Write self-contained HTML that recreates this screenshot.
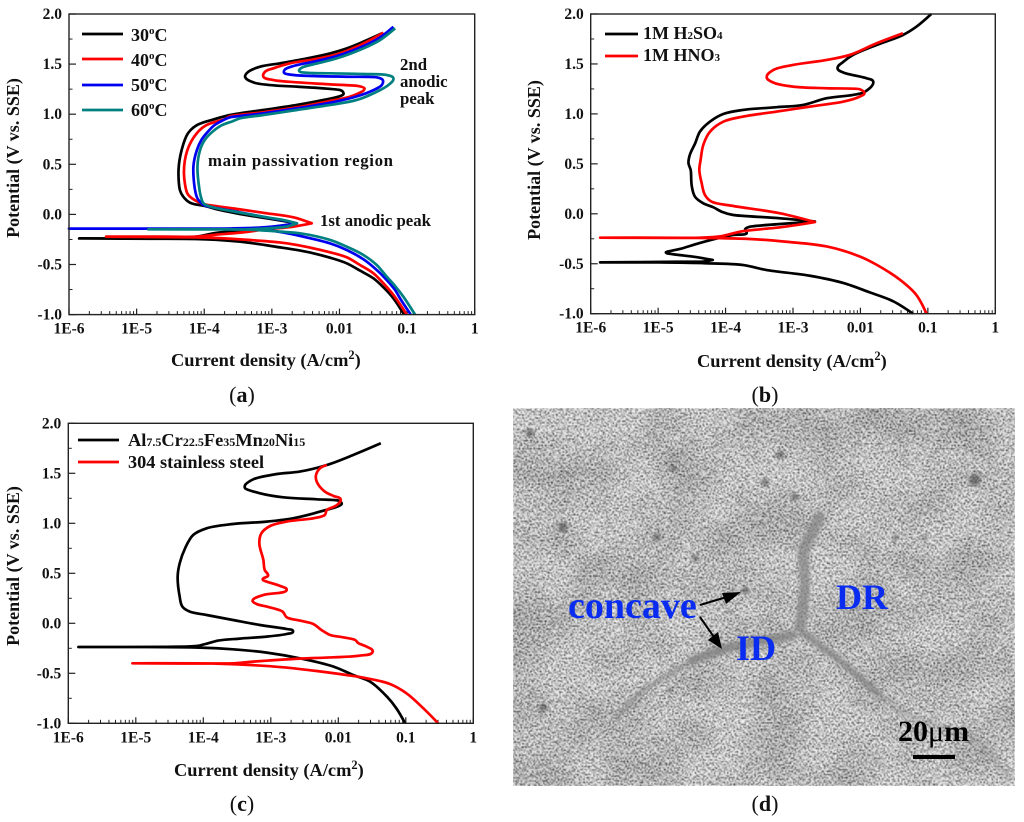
<!DOCTYPE html>
<html lang="en">
<head>
<meta charset="utf-8">
<title>Polarization curves and SEM micrograph</title>
<style>
html,body{margin:0;padding:0;background:#fff;}
svg{display:block;font-family:"Liberation Serif",serif;font-weight:bold;fill:#111;filter:blur(0.3px);}
.tick{font-size:15.5px;}
.title{font-size:18.4px;}
.ytitle{font-size:18px;}
.leg{font-size:18px;}
.note{font-size:16.8px;}
.cap{font-size:22px;font-weight:normal;text-anchor:middle;}
.cap tspan{font-weight:bold;}
.sem{font-size:36px;fill:#0a2cf0;}
</style>
</head>
<body>
<svg id="figure" xmlns="http://www.w3.org/2000/svg" width="1024" height="822" viewBox="0 0 1024 822">
  <defs>
    <filter id="semNoise" x="0" y="0" width="100%" height="100%" color-interpolation-filters="sRGB">
      <feTurbulence type="fractalNoise" baseFrequency="0.62" numOctaves="2" seed="7"/>
      <feColorMatrix type="matrix" values="2.6 0 0 0 -0.55  2.6 0 0 0 -0.55  2.6 0 0 0 -0.55  0 0 0 0 1"/>
      <feGaussianBlur stdDeviation="0.4"/>
    </filter>
    <filter id="semVeins" x="0" y="0" width="100%" height="100%" color-interpolation-filters="sRGB">
      <feTurbulence type="turbulence" baseFrequency="0.045 0.06" numOctaves="2" seed="23"/>
      <feColorMatrix type="matrix" values="0 0 0 0 1  0 0 0 0 1  0 0 0 0 1  -9 0 0 0 1.1"/>
    </filter>
    <filter id="semMottle" x="0" y="0" width="100%" height="100%" color-interpolation-filters="sRGB">
      <feTurbulence type="fractalNoise" baseFrequency="0.02" numOctaves="3" seed="11"/>
      <feColorMatrix type="matrix" values="1.8 0 0 0 -0.2  1.8 0 0 0 -0.2  1.8 0 0 0 -0.2  0 0 0 0 1"/>
    </filter>
    <filter id="semSoft" x="-10%" y="-10%" width="120%" height="120%"><feGaussianBlur stdDeviation="1.8"/></filter>
  </defs>

  <g id="plot-a"></g>
  <g id="plot-b"></g>
  <g id="plot-c"></g>

  <!-- chart a text -->
  <text class="title" x="171" y="366">Current density (A/cm<tspan font-size="12.5" dy="-7">2</tspan><tspan dy="7">)</tspan></text>
  <text class="ytitle" transform="translate(19,158) rotate(-90)" text-anchor="middle">Potential (V vs. SSE)</text>
  <text class="leg" x="131" y="41">30<tspan font-size="11" dy="-7">o</tspan><tspan dy="7">C</tspan></text>
  <text class="leg" x="131" y="66">40<tspan font-size="11" dy="-7">o</tspan><tspan dy="7">C</tspan></text>
  <text class="leg" x="131" y="91">50<tspan font-size="11" dy="-7">o</tspan><tspan dy="7">C</tspan></text>
  <text class="leg" x="131" y="116">60<tspan font-size="11" dy="-7">o</tspan><tspan dy="7">C</tspan></text>
  <text class="note" x="400" y="70">2nd</text>
  <text class="note" x="400" y="87">anodic</text>
  <text class="note" x="400" y="104">peak</text>
  <text class="note" x="208" y="166" textLength="185">main passivation region</text>
  <text class="note" x="320" y="226">1st anodic peak</text>
  <text class="cap" x="242" y="402">(<tspan>a</tspan>)</text>

  <!-- chart b text -->
  <text class="title" x="697" y="367">Current density (A/cm<tspan font-size="12.5" dy="-7">2</tspan><tspan dy="7">)</tspan></text>
  <text class="ytitle" transform="translate(540,160) rotate(-90)" text-anchor="middle">Potential (V vs. SSE)</text>
  <text class="leg" x="643" y="39">1M H<tspan font-size="11">2</tspan>SO<tspan font-size="11">4</tspan></text>
  <text class="leg" x="643" y="61">1M HNO<tspan font-size="11">3</tspan></text>
  <text class="cap" x="765" y="402">(<tspan>b</tspan>)</text>

  <!-- chart c text -->
  <text class="title" x="174" y="776">Current density (A/cm<tspan font-size="12.5" dy="-7">2</tspan><tspan dy="7">)</tspan></text>
  <text class="ytitle" transform="translate(19,566) rotate(-90)" text-anchor="middle">Potential (V vs. SSE)</text>
  <text class="leg" x="128" y="446" font-size="18.4" style="font-size:18.4px">Al<tspan font-size="12" style="font-size:12px">7.5</tspan>Cr<tspan style="font-size:12px">22.5</tspan>Fe<tspan style="font-size:12px">35</tspan>Mn<tspan style="font-size:12px">20</tspan>Ni<tspan style="font-size:12px">15</tspan></text>
  <text class="leg" x="128" y="468" style="font-size:18.3px">304 stainless steel</text>
  <text class="cap" x="242" y="811">(<tspan>c</tspan>)</text>

  <!-- panel d: SEM micrograph -->
  <g id="sem">
    <rect x="513" y="408" width="502" height="378" fill="#b0b0b0" filter="url(#semNoise)"/>
    <rect x="513" y="408" width="502" height="378" fill="#fff" filter="url(#semVeins)" opacity="0.22"/>
    <rect x="513" y="408" width="502" height="378" fill="#888" filter="url(#semMottle)" opacity="0.12"/>
    <g fill="none" stroke="#828282" stroke-linecap="round" filter="url(#semSoft)">
      <path d="M820 517 L803 550 L805 587 L800 627" stroke-width="11" opacity="0.7"/>
      <path d="M617 717 L643 690 L693 660" stroke-width="6" opacity="0.55"/>
      <path d="M693 660 L727 648 L793 635" stroke-width="9" opacity="0.8"/>
      <path d="M803 633 L843 663 L877 693" stroke-width="7" opacity="0.75"/>
      <path d="M877 693 L910 717 L977 740 L1008 777" stroke-width="8" opacity="0.3"/>
    </g>
    <g fill="#3c3c3c" filter="url(#semSoft)" opacity="0.6">
      <circle cx="543" cy="708" r="4"/><circle cx="780" cy="455" r="4"/><circle cx="795" cy="497" r="3.5"/>
      <circle cx="975" cy="480" r="6"/><circle cx="563" cy="527" r="5"/><circle cx="657" cy="537" r="3.5"/>
      <circle cx="695" cy="558" r="3.5"/><circle cx="745" cy="590" r="3.5"/><circle cx="530" cy="433" r="4"/>
      <circle cx="673" cy="468" r="3"/><circle cx="765" cy="482" r="4"/><circle cx="895" cy="538" r="3"/>
      <circle cx="925" cy="538" r="2.5"/><circle cx="670" cy="690" r="2.5"/>
    </g>
    <line x1="700" y1="605" x2="730" y2="596" stroke="#000" stroke-width="2"/>
    <polygon points="741,592 726,604 722,593" fill="#000"/>
    <line x1="700" y1="617" x2="716" y2="640" stroke="#000" stroke-width="2"/>
    <polygon points="722,649 708,640 718,632" fill="#000"/>
    <text class="sem" x="568" y="618" style="font-size:38px">concave</text>
    <text class="sem" x="836" y="609">DR</text>
    <text class="sem" x="736" y="660">ID</text>
    <text x="898" y="741" font-size="30" style="fill:#000">20<tspan font-weight="normal">μ</tspan>m</text>
    <rect x="913" y="755" width="42" height="4" fill="#000"/>
  </g>
  <text class="cap" x="765" y="811">(<tspan>d</tspan>)</text>
</svg>

<script>
// ---- shared tick data ----
const decadeTicks = [-6, -5, -4, -3, -2, -1, 0];
const decadeLabels = ['1E-6', '1E-5', '1E-4', '1E-3', '0.01', '0.1', '1'];
const potentialTicks = [-1, -0.5, 0, 0.5, 1, 1.5, 2];
const potentialLabels = ['-1.0', '-0.5', '0.0', '0.5', '1.0', '1.5', '2.0'];
const potentialMinorTicks = [-0.75, -0.25, 0.25, 0.75, 1.25, 1.75];

// ---- chart (a): temperature series (potential in V, log10 of current density) ----
const a30Potential = [-1,-.838,-.728,-.638,-.561,-.488,-.432,-.388,-.355,-.329,-.272,-.249,-.243,-.24,-.238,-.222,-.189,-.172,-.132,-.089,-.039,.004,.044,.084,.117,.177,.243,.445,.64,.81,.89,.95,.992,1.042,1.092,1.142,1.175,1.2,1.225,1.241,1.258,1.275,1.291,1.318,1.374,1.424,1.474,1.508,1.557,1.607,1.657,1.724,1.807];
const a30LogCurrent = [-1.045,-1.202,-1.35,-1.498,-1.696,-1.893,-2.139,-2.386,-2.632,-2.88,-3.47,-3.963,-4.8,-5.85,-4.8,-4.11,-3.865,-3.67,-3.076,-2.63,-3.076,-3.47,-3.77,-3.99,-4.21,-4.31,-4.36,-4.38,-4.335,-4.24,-4.11,-3.85,-3.618,-3.125,-2.632,-2.237,-2.015,-1.941,-1.95,-1.99,-2.237,-2.632,-3.026,-3.273,-3.396,-3.347,-3.174,-2.878,-2.484,-2.139,-1.892,-1.646,-1.374];
const a40Potential = [-1,-.804,-.688,-.588,-.505,-.428,-.378,-.339,-.305,-.28,-.249,-.232,-.226,-.222,-.222,-.222,-.205,-.182,-.149,-.122,-.089,-.029,.011,.05,.087,.104,.16,.21,.41,.64,.81,.89,.95,.98,1.02,1.068,1.132,1.175,1.235,1.258,1.281,1.298,1.318,1.341,1.374,1.424,1.458,1.508,1.547,1.597,1.674,1.74,1.814];
const a40LogCurrent = [-1.005,-1.202,-1.35,-1.498,-1.696,-1.893,-2.139,-2.386,-2.632,-2.88,-3.47,-3.963,-4.8,-5.45,-4.6,-4.11,-3.865,-3.47,-3.076,-2.68,-2.41,-2.68,-3.076,-3.47,-3.865,-4.01,-4.18,-4.25,-4.30,-4.25,-4.11,-3.97,-3.70,-3.618,-3.125,-2.632,-2.139,-1.843,-1.646,-1.63,-1.72,-2.139,-2.632,-2.977,-3.125,-3.10,-2.977,-2.73,-2.385,-2.04,-1.744,-1.547,-1.35];
const a50Potential = [-1,-.838,-.754,-.655,-.555,-.448,-.355,-.289,-.215,-.195,-.156,-.145,-.142,-.142,-.142,-.14,-.128,-.10,-.089,-.07,-.03,.02,.07,.094,.16,.243,.48,.64,.745,.83,.89,.94,.969,1.009,1.058,1.115,1.168,1.225,1.291,1.341,1.368,1.374,1.381,1.391,1.414,1.448,1.481,1.524,1.581,1.68,1.767,1.873];
const a50LogCurrent = [-.946,-1.104,-1.178,-1.301,-1.449,-1.646,-1.893,-2.139,-2.583,-2.72,-3.076,-3.6,-4.83,-6,-4.83,-3.6,-3.1,-2.73,-2.64,-2.75,-3.076,-3.47,-3.865,-4.01,-4.10,-4.136,-4.16,-4.11,-4.04,-3.94,-3.85,-3.72,-3.618,-3.125,-2.632,-2.139,-1.793,-1.547,-1.374,-1.36,-1.448,-1.892,-2.385,-2.68,-2.82,-2.804,-2.68,-2.385,-2.04,-1.646,-1.4,-1.202];
const a60Potential = [-1,-.821,-.714,-.621,-.505,-.405,-.322,-.255,-.189,-.172,-.152,-.149,-.149,-.14,-.122,-.089,-.06,-.029,.017,.07,.11,.177,.243,.48,.645,.745,.83,.89,.93,.959,.992,1.042,1.092,1.142,1.208,1.291,1.358,1.391,1.401,1.408,1.414,1.434,1.464,1.498,1.557,1.657,1.74,1.857];
const a60LogCurrent = [-.882,-1.055,-1.178,-1.301,-1.449,-1.646,-1.893,-2.139,-2.583,-2.88,-3.37,-4.826,-3.37,-3.1,-2.78,-2.63,-2.8,-3.076,-3.47,-3.865,-4.01,-4.05,-4.07,-4.10,-4.06,-3.99,-3.87,-3.74,-3.58,-3.47,-3.125,-2.632,-2.139,-1.744,-1.498,-1.276,-1.202,-1.30,-1.646,-2.139,-2.484,-2.597,-2.558,-2.385,-2.04,-1.646,-1.4,-1.177];

// ---- chart (b): electrolyte series ----
const bSulfuricPotential = [-1,-.877,-.787,-.693,-.62,-.563,-.513,-.495,-.487,-.486,-.48,-.478,-.462,-.429,-.41,-.396,-.385,-.352,-.302,-.256,-.212,-.195,-.155,-.129,-.102,-.077,-.045,-.012,.021,.065,.105,.171,.272,.438,.507,.59,.707,.823,.923,1.0,1.04,1.067,1.09,1.157,1.19,1.223,1.323,1.357,1.413,1.457,1.523,1.59,1.69,1.79,1.873,2.0];
const bSulfuricLogCurrent = [-1.22,-1.51,-1.86,-2.25,-2.75,-3.39,-3.736,-4.3,-5.0,-5.86,-4.725,-4.33,-4.19,-4.478,-4.72,-4.87,-4.885,-4.676,-4.43,-4.18,-3.885,-3.687,-3.71,-3.637,-3.19,-2.675,-3.19,-3.885,-4.058,-4.18,-4.33,-4.453,-4.50,-4.517,-4.55,-4.53,-4.45,-4.38,-4.23,-4.03,-3.74,-3.24,-2.85,-2.50,-2.11,-1.93,-1.81,-1.91,-2.25,-2.34,-2.25,-2.11,-1.76,-1.37,-1.17,-.95];
const bNitricPotential = [-1,-.813,-.66,-.51,-.427,-.327,-.28,-.252,-.244,-.239,-.239,-.239,-.226,-.179,-.155,-.135,-.083,.005,.078,.121,.188,.305,.438,.54,.69,.823,.923,.973,1.023,1.073,1.123,1.173,1.207,1.247,1.257,1.273,1.313,1.367,1.44,1.49,1.54,1.59,1.707,1.807];
const bNitricLogCurrent = [-1.02,-1.17,-1.415,-1.76,-2.01,-2.50,-3.1,-3.64,-4.08,-5.0,-5.86,-4.38,-4.08,-3.786,-3.49,-3.19,-2.675,-3.19,-3.885,-4.206,-4.305,-4.354,-4.389,-4.37,-4.33,-4.23,-4.03,-3.74,-3.24,-2.75,-2.25,-2.01,-1.94,-2.01,-2.50,-3.0,-3.29,-3.39,-3.29,-3.0,-2.50,-2.16,-1.76,-1.37];

// ---- chart (c): alloy vs 304 steel series ----
const cAlloyPotential = [-1,-.85,-.733,-.583,-.517,-.433,-.35,-.293,-.26,-.243,-.237,-.237,-.235,-.227,-.20,-.173,-.153,-.133,-.107,-.08,-.057,-.017,.033,.083,.117,.167,.267,.467,.60,.75,.883,.95,.993,1.017,1.05,1.117,1.193,1.227,1.24,1.26,1.30,1.35,1.383,1.44,1.493,1.517,1.583,1.683,1.80];
const cAlloyLogCurrent = [-1.01,-1.14,-1.28,-1.53,-1.78,-2.07,-2.57,-3.06,-3.56,-4.05,-5.04,-5.85,-4.54,-4.10,-3.93,-3.78,-3.46,-3.06,-2.765,-2.67,-2.765,-3.16,-3.56,-3.95,-4.20,-4.31,-4.35,-4.38,-4.35,-4.27,-4.15,-3.95,-3.56,-3.06,-2.67,-2.27,-1.95,-2.0,-2.32,-2.815,-3.16,-3.38,-3.38,-3.26,-2.91,-2.57,-2.17,-1.78,-1.37];
const cSteelPotential = [-1,-.85,-.70,-.607,-.55,-.517,-.477,-.44,-.417,-.403,-.40,-.40,-.383,-.353,-.34,-.323,-.283,-.233,-.20,-.167,-.14,-.117,-.067,-.007,.027,.06,.117,.167,.193,.227,.283,.333,.373,.417,.44,.477,.533,.633,.80,.90,.973,1.017,1.05,1.083,1.133,1.183,1.24,1.273,1.317,1.417,1.483,1.55,1.583];
const cSteelLogCurrent = [-.52,-.74,-.99,-1.235,-1.58,-1.88,-2.32,-2.815,-3.31,-3.80,-5.05,-3.56,-3.26,-2.57,-2.07,-1.68,-1.49,-1.58,-1.70,-1.75,-1.93,-2.12,-2.25,-2.37,-2.57,-2.765,-2.825,-3.06,-3.21,-3.27,-3.11,-2.765,-2.86,-3.06,-3.12,-3.04,-3.09,-3.11,-3.17,-3.14,-3.01,-2.765,-2.37,-2.20,-2.17,-2.02,-1.965,-2.07,-2.20,-2.32,-2.33,-2.27,-2.17];

const NS = 'http://www.w3.org/2000/svg';

function svgEl(tag, parent, attrs) {
  const el = document.createElementNS(NS, tag);
  for (const k in attrs) el.setAttribute(k, attrs[k]);
  parent.appendChild(el);
  return el;
}

// Chord-scaled smooth path; spikes stay as corners, control handles are limited by neighbouring segments.
function smoothPath(pts) {
  const seg = [];
  for (let i = 1; i < pts.length; i++) seg.push(Math.hypot(pts[i][0] - pts[i - 1][0], pts[i][1] - pts[i - 1][1]));
  const tan = pts.map(function (p, i) {
    if (i === 0 || i === pts.length - 1) return [0, 0];
    const a = pts[i - 1], b = pts[i + 1];
    const ax = p[0] - a[0], ay = p[1] - a[1], bx = b[0] - p[0], by = b[1] - p[1];
    const la = Math.hypot(ax, ay) || 1, lb = Math.hypot(bx, by) || 1;
    if ((ax * bx + ay * by) / (la * lb) < -0.8) return [0, 0];
    const tx = ax / la + bx / lb, ty = ay / la + by / lb, lt = Math.hypot(tx, ty) || 1;
    return [tx / lt, ty / lt];
  });
  let d = 'M' + pts[0][0].toFixed(2) + ' ' + pts[0][1].toFixed(2);
  for (let i = 1; i < pts.length; i++) {
    const p0 = pts[i - 1], p1 = pts[i], len = seg[i - 1];
    const s0 = 0.33 * (i >= 2 ? Math.min(len, 1.6 * seg[i - 2]) : len);
    const s1 = 0.33 * (i < seg.length ? Math.min(len, 1.6 * seg[i]) : len);
    d += 'C' + (p0[0] + tan[i - 1][0] * s0).toFixed(2) + ' ' + (p0[1] + tan[i - 1][1] * s0).toFixed(2) +
      ' ' + (p1[0] - tan[i][0] * s1).toFixed(2) + ' ' + (p1[1] - tan[i][1] * s1).toFixed(2) +
      ' ' + p1[0].toFixed(2) + ' ' + p1[1].toFixed(2);
  }
  return d;
}

function drawAxes(group, box) {
  const xScale = function (v) { return box.left + (v + 6) * (box.right - box.left) / 6; };
  const yScale = function (v) { return box.bottom - (v + 1) * (box.bottom - box.top) / 3; };

  decadeTicks.forEach(function (t, i) {
    const px = xScale(t);
    const major = svgEl('line', group, { x1: px, x2: px, y1: box.bottom, y2: box.bottom - 6, stroke: '#222', 'stroke-width': 1.2 });
    
    
    const label = svgEl('text', group, { x: px, y: box.bottom + 19, 'class': 'tick', 'text-anchor': 'middle' });
    label.textContent = decadeLabels[i];
    
    
    if (t < 0) {
      for (let m = 2; m < 10; m++) {
        const mx = xScale(t + Math.log10(m));
        const minor = svgEl('line', group, { x1: mx, x2: mx, y1: box.bottom, y2: box.bottom - 3.5, stroke: '#222', 'stroke-width': 1 });
        
        
      }
    }
  });

  potentialTicks.forEach(function (t, i) {
    const py = yScale(t);
    const major = svgEl('line', group, { x1: box.left, x2: box.left + 7, y1: py, y2: py, stroke: '#222', 'stroke-width': 1.2 });
    
    
    const label = svgEl('text', group, { x: box.left - 7, y: py + 5, 'class': 'tick', 'text-anchor': 'end' });
    label.textContent = potentialLabels[i];
    
    
  });

  potentialMinorTicks.forEach(function (t) {
    const py = yScale(t);
    const minor = svgEl('line', group, { x1: box.left, x2: box.left + 3.5, y1: py, y2: py, stroke: '#222', 'stroke-width': 1 });
    
    
  });

  return { x: xScale, y: yScale };
}

function drawSeries(group, scales, logCurrent, potential, color, name) {
  const pts = logCurrent.map(function (v, i) { return [scales.x(v), scales.y(potential[i])]; });
  const line = svgEl('path', group, { d: smoothPath(pts), fill: 'none', stroke: color, 'stroke-width': 2.7, 'stroke-linejoin': 'round' });
  
  
}

function drawLegendLine(group, x1, x2, y, color, name) {
  const line = svgEl('line', group, { x1: x1, x2: x2, y1: y, y2: y, stroke: color, 'stroke-width': 2.8 });
  
  
}

function drawFrame(group, box) {
  const frame = svgEl('rect', group, { x: box.left, y: box.top, width: box.right - box.left, height: box.bottom - box.top, fill: 'none', stroke: '#222', 'stroke-width': 1.4 });
  
  
}

// Chart (a)
const gA = document.getElementById('plot-a');
const boxA = { left: 69, right: 474.7, top: 14, bottom: 314.6 };
const sA = drawAxes(gA, boxA);
drawSeries(gA, sA, a30LogCurrent, a30Potential, '#000', 'curve-30c');
drawSeries(gA, sA, a40LogCurrent, a40Potential, '#f00', 'curve-40c');
drawSeries(gA, sA, a50LogCurrent, a50Potential, '#0000f0', 'curve-50c');
drawSeries(gA, sA, a60LogCurrent, a60Potential, '#008080', 'curve-60c');
drawFrame(gA, boxA);
drawLegendLine(gA, 82, 123, 34, '#000', 'legend-line-30c');
drawLegendLine(gA, 82, 123, 59, '#f00', 'legend-line-40c');
drawLegendLine(gA, 82, 123, 85, '#0000f0', 'legend-line-50c');
drawLegendLine(gA, 82, 123, 110, '#008080', 'legend-line-60c');

// Chart (b)
const gB = document.getElementById('plot-b');
const boxB = { left: 590.7, right: 995.3, top: 14, bottom: 313.7 };
const sB = drawAxes(gB, boxB);
drawSeries(gB, sB, bSulfuricLogCurrent, bSulfuricPotential, '#000', 'curve-h2so4');
drawSeries(gB, sB, bNitricLogCurrent, bNitricPotential, '#f00', 'curve-hno3');
drawFrame(gB, boxB);
drawLegendLine(gB, 605, 638, 34, '#000', 'legend-line-h2so4');
drawLegendLine(gB, 605, 638, 56, '#f00', 'legend-line-hno3');

// Chart (c)
const gC = document.getElementById('plot-c');
const boxC = { left: 68.3, right: 473.3, top: 423.3, bottom: 723.3 };
const sC = drawAxes(gC, boxC);
drawSeries(gC, sC, cAlloyLogCurrent, cAlloyPotential, '#000', 'curve-alloy');
drawSeries(gC, sC, cSteelLogCurrent, cSteelPotential, '#f00', 'curve-304-steel');
drawFrame(gC, boxC);
drawLegendLine(gC, 78, 119, 440, '#000', 'legend-line-alloy');
drawLegendLine(gC, 78, 119, 462, '#f00', 'legend-line-304-steel');
</script>
</body>
</html>
